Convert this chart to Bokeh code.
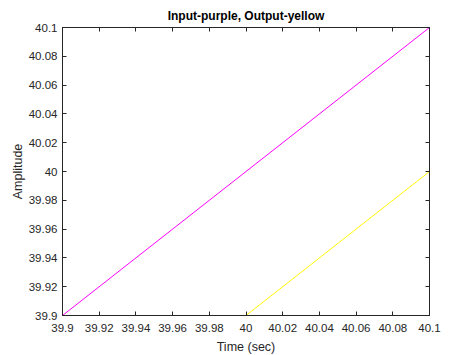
from bokeh.plotting import figure
from bokeh.models import LinearAxis, FixedTicker, Range1d
from bokeh.embed import file_html
from bokeh.resources import INLINE

# Data
time_in = [39.9, 40.1]
input_sig = [39.9, 40.1]
time_out = [40.0, 40.1]
output_sig = [39.9, 40.0]

x_ticks = [39.9, 39.92, 39.94, 39.96, 39.98, 40.0, 40.02, 40.04, 40.06, 40.08, 40.1]
y_ticks = [39.9, 39.92, 39.94, 39.96, 39.98, 40.0, 40.02, 40.04, 40.06, 40.08, 40.1]
x_labels = {39.9: "39.9", 39.92: "39.92", 39.94: "39.94", 39.96: "39.96", 39.98: "39.98",
            40.0: "40", 40.02: "40.02", 40.04: "40.04", 40.06: "40.06", 40.08: "40.08", 40.1: "40.1"}
y_labels = dict(x_labels)

FONT = "Liberation Sans"
AX_COL = "#262626"

p = figure(frame_width=367, frame_height=288, output_backend="svg", toolbar_location=None,
           x_range=Range1d(39.9, 40.1), y_range=Range1d(39.9, 40.1),
           x_axis_location=None, y_axis_location=None,
           min_border_left=62, min_border_right=45, min_border_top=27, min_border_bottom=40)

p.title.text = "Input-purple, Output-yellow"
p.title.text_font = FONT
p.title.text_font_size = "12px"
p.title.text_font_style = "bold"
p.title.align = "center"
p.title.vertical_align = "top"
p.title.text_color = "#000000"
p.title.offset = 0
p.title.standoff = 6

p.xgrid.visible = False
p.ygrid.visible = False
p.outline_line_color = AX_COL
p.outline_line_width = 1
p.background_fill_color = "white"
p.border_fill_color = "white"


def style(ax, show_labels):
    ax.major_tick_in = 4
    ax.major_tick_out = 0
    ax.minor_tick_in = 0
    ax.minor_tick_out = 0
    ax.axis_line_color = AX_COL
    ax.major_tick_line_color = AX_COL
    ax.major_label_text_font = FONT
    ax.major_label_text_font_size = "11.5px"
    ax.major_label_text_color = AX_COL if show_labels else None
    ax.axis_label_text_font = FONT
    ax.axis_label_text_font_size = "12.5px"
    ax.axis_label_text_font_style = "normal"
    ax.axis_label_text_color = AX_COL


xb = LinearAxis(ticker=FixedTicker(ticks=x_ticks), axis_label="Time (sec)")
style(xb, True)
xb.major_label_overrides = x_labels
xb.major_label_standoff = 8
xb.axis_label_standoff = 5
p.add_layout(xb, "below")

yl = LinearAxis(ticker=FixedTicker(ticks=y_ticks), axis_label="Amplitude")
style(yl, True)
yl.major_label_overrides = y_labels
yl.major_label_standoff = 5
yl.axis_label_standoff = 1
p.add_layout(yl, "left")

xt = LinearAxis(ticker=FixedTicker(ticks=x_ticks))
style(xt, False)
xt.major_label_standoff = 0
xt.major_label_text_font_size = "1px"
p.add_layout(xt, "above")

yr = LinearAxis(ticker=FixedTicker(ticks=y_ticks))
style(yr, False)
yr.major_label_standoff = 0
yr.major_label_text_font_size = "1px"
p.add_layout(yr, "right")

p.line(time_in, input_sig, line_color="#FF00FF", line_width=1)
p.line(time_out, output_sig, line_color="#FFFF00", line_width=1)

open("out.html", "w").write(file_html(p, INLINE))
